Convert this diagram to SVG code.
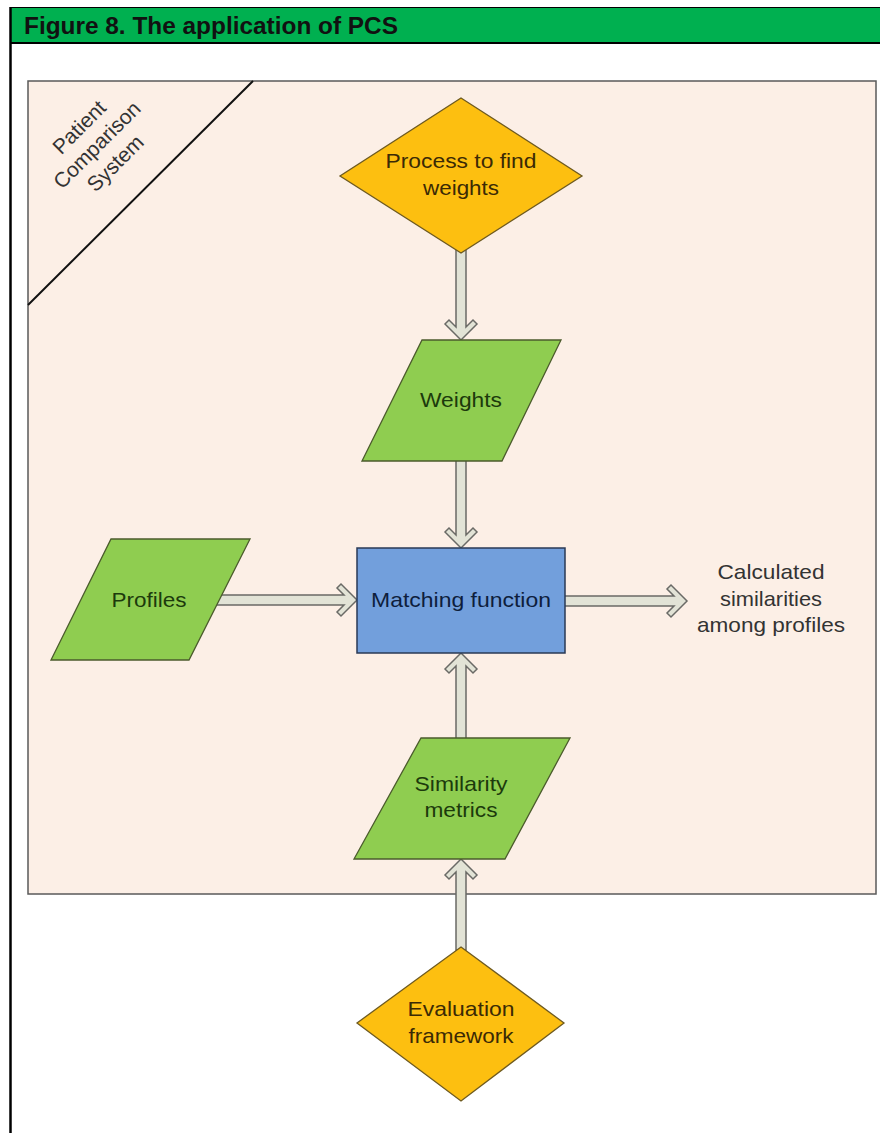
<svg xmlns="http://www.w3.org/2000/svg" width="882" height="1133" viewBox="0 0 882 1133">
<style>
  text { font-family: "Liberation Sans", Arial, sans-serif; }
  .lbl { font-size: 21px; text-anchor: middle; }
  .dia { fill: #fdbf10; stroke: #6e5a20; stroke-width: 1.3; }
  .par { fill: #8fcd50; stroke: #4b5b2c; stroke-width: 1.3; }
  .box { fill: #729fdc; stroke: #2a3a55; stroke-width: 1.5; }
  .arr { fill: #e2e3d6; stroke: #6a6a66; stroke-width: 1.5; stroke-linejoin: miter; }
  .tdia { fill: #3b2a05; }
  .tpar { fill: #1c3a0c; }
  .tbox { fill: #0e1e3c; }
  .tplain { fill: #333333; }
</style>
<rect x="0" y="0" width="882" height="1133" fill="#ffffff"/>
<!-- header -->
<g id="header">
  <rect x="10" y="8" width="870" height="35" fill="#00b050"/>
  <line x1="10" y1="7.5" x2="880" y2="7.5" stroke="#000" stroke-width="1"/>
  <line x1="10" y1="43" x2="880" y2="43" stroke="#000" stroke-width="2"/>
  <line x1="10.5" y1="7" x2="10.5" y2="1133" stroke="#000" stroke-width="2.5"/>
  <text x="24" y="34" font-size="24" font-weight="bold" fill="#111" textLength="374" lengthAdjust="spacingAndGlyphs">Figure 8. The application of PCS</text>
</g>
<!-- panel -->
<g id="panel">
  <rect x="28" y="81" width="848" height="813" fill="#fcefe6" stroke="#5a5a5a" stroke-width="1.5"/>
  <line x1="253" y1="81" x2="28" y2="305" stroke="#111" stroke-width="2"/>
  <g transform="translate(97,145) rotate(-45)" class="tplain">
    <text class="lbl" x="0" y="-18">Patient</text>
    <text class="lbl" x="0" y="7">Comparison</text>
    <text class="lbl" x="0" y="33">System</text>
  </g>
</g>
<!-- connectors -->
<g id="connectors" class="arr">
  <polygon transform="translate(461,340) rotate(90)" points="-90,-5 -13,-5 -20,-12 -16,-16 0,0 -16,16 -20,12 -13,5 -90,5"/>
  <polygon transform="translate(461,548) rotate(90)" points="-90,-5 -13,-5 -20,-12 -16,-16 0,0 -16,16 -20,12 -13,5 -90,5"/>
  <polygon transform="translate(357,600)" points="-143,-5 -13,-5 -20,-12 -16,-16 0,0 -16,16 -20,12 -13,5 -143,5"/>
  <polygon transform="translate(687,601)" points="-124,-5 -13,-5 -20,-12 -16,-16 0,0 -16,16 -20,12 -13,5 -124,5"/>
  <polygon transform="translate(461,653) rotate(-90)" points="-88,-5 -13,-5 -20,-12 -16,-16 0,0 -16,16 -20,12 -13,5 -88,5"/>
  <polygon transform="translate(461,859) rotate(-90)" points="-91,-5 -13,-5 -20,-12 -16,-16 0,0 -16,16 -20,12 -13,5 -91,5"/>
</g>
<!-- nodes -->
<g id="process">
  <polygon class="dia" points="461,98 582,176 461,253 340,176"/>
  <text class="lbl tdia" x="461" y="168" textLength="151" lengthAdjust="spacingAndGlyphs">Process to find</text>
  <text class="lbl tdia" x="461" y="195" textLength="76" lengthAdjust="spacingAndGlyphs">weights</text>
</g>
<g id="weights">
  <polygon class="par" points="422,340 561,340 502,461 362,461"/>
  <text class="lbl tpar" x="461" y="407" textLength="82" lengthAdjust="spacingAndGlyphs">Weights</text>
</g>
<g id="profiles">
  <polygon class="par" points="111,539 250,539 189,660 51,660"/>
  <text class="lbl tpar" x="149" y="607" textLength="75" lengthAdjust="spacingAndGlyphs">Profiles</text>
</g>
<g id="matching">
  <rect class="box" x="357" y="548" width="208" height="105"/>
  <text class="lbl tbox" x="461" y="607" textLength="180" lengthAdjust="spacingAndGlyphs">Matching function</text>
</g>
<g id="result">
  <text class="lbl tplain" x="771" y="579" textLength="107" lengthAdjust="spacingAndGlyphs">Calculated</text>
  <text class="lbl tplain" x="771" y="606" textLength="102" lengthAdjust="spacingAndGlyphs">similarities</text>
  <text class="lbl tplain" x="771" y="632" textLength="148" lengthAdjust="spacingAndGlyphs">among profiles</text>
</g>
<g id="similarity">
  <polygon class="par" points="421,738 570,738 505,859 354,859"/>
  <text class="lbl tpar" x="461" y="791" textLength="93" lengthAdjust="spacingAndGlyphs">Similarity</text>
  <text class="lbl tpar" x="461" y="817" textLength="73" lengthAdjust="spacingAndGlyphs">metrics</text>
</g>
<g id="evaluation">
  <polygon class="dia" points="461,947 564,1023 461,1101 357,1023"/>
  <text class="lbl tdia" x="461" y="1016" textLength="107" lengthAdjust="spacingAndGlyphs">Evaluation</text>
  <text class="lbl tdia" x="461" y="1043" textLength="105" lengthAdjust="spacingAndGlyphs">framework</text>
</g>
</svg>
